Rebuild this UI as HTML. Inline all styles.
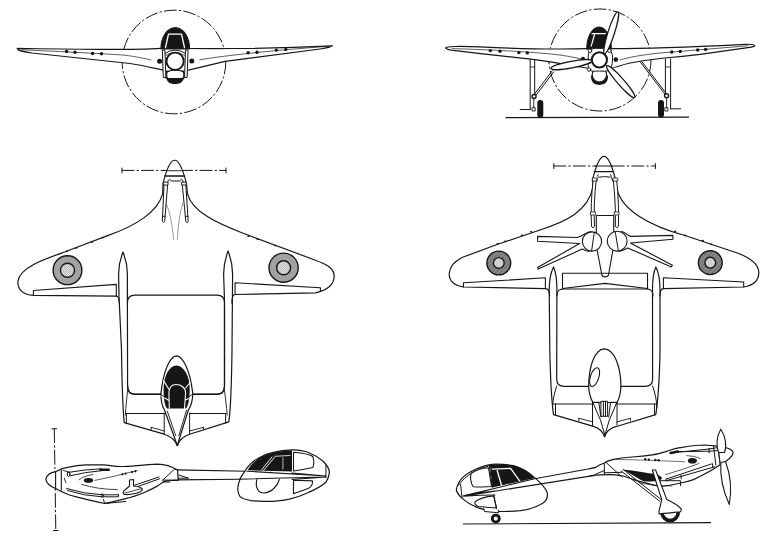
<!DOCTYPE html>
<html><head><meta charset="utf-8">
<style>
html,body{margin:0;padding:0;background:#fff;width:780px;height:538px;overflow:hidden;font-family:"Liberation Sans",sans-serif;}
svg{display:block}
</style></head>
<body>
<svg width="780" height="538" viewBox="0 0 780 538">
<defs>
  <pattern id="dots" width="2" height="2" patternUnits="userSpaceOnUse"><rect width="2" height="2" fill="#e4e4e4"/><rect width="1" height="1" fill="#b8b8b8"/><rect x="1" y="1" width="1" height="1" fill="#b8b8b8"/></pattern>
  <pattern id="hatch" width="3" height="3" patternUnits="userSpaceOnUse" patternTransform="rotate(-45)"><rect width="3" height="3" fill="#8a8a8a"/><rect width="3" height="1" fill="#6a6a6a"/></pattern>
</defs>
<g fill="none" stroke="#161616" stroke-width="1.2" stroke-linejoin="round" stroke-linecap="round">

<!-- ============ VIEW 1: front view (left) ============ -->
<g id="v1">
  <circle cx="174" cy="62" r="51.8" stroke-width="1" stroke-dasharray="12 3 1.5 3"/>
  <!-- wings -->
  <path d="M164,48.2 C140,50.6 90,49.5 17.2,48.4 C17.5,50.5 21,51.5 32,53 L130,63.5 C146,66 155,68.5 163.5,70.2" fill="#fff"/>
  <path d="M188,48.5 Q260,49.2 332.5,45.8 C331,47.2 328,47.8 320,49 L225,61.4 C206,66 197,68.2 188.5,70.2" fill="#fff"/>
  <path d="M22,49.8 C60,51.5 110,54 125,55.2 C135,56.5 145,58.5 151,60" stroke-width="0.7"/>
  <path d="M199.9,59.7 Q245,52.5 328,46.3" stroke-width="0.7"/>
  <g fill="#161616" stroke="none">
    <circle cx="66.6" cy="51.5" r="1.7"/><circle cx="75" cy="52.2" r="1.7"/>
    <circle cx="92.6" cy="53.5" r="1.7"/><circle cx="101.5" cy="53.8" r="1.7"/>
    <circle cx="248.1" cy="52.8" r="1.7"/><circle cx="257" cy="52.3" r="1.7"/>
    <circle cx="276.3" cy="50.1" r="1.7"/><circle cx="285.8" cy="49.4" r="1.7"/>
    <circle cx="159.6" cy="61.3" r="2.5"/><circle cx="191.8" cy="60.9" r="2.5"/>
  </g>
  <!-- canopy -->
  <path d="M161,49 A14.25,21.3 0 0 1 189.5,49 Z" fill="#161616"/>
  <path d="M165.5,47.5 L168.5,34.2 L181.5,34.2 L184.5,47.5" stroke="#fff" stroke-width="1.3"/>
  <!-- engine frame -->
  <path d="M166.7,71 Q165,78.5 167.2,79 C169,85 181,85 183,79 Q185,78.5 183.6,71 Z" fill="#161616"/>
  <path d="M167,72 Q175,68 183.5,72 Q184.5,78 182,78.5 L168.5,78.5 Q166,78 167,72Z" fill="#fff" stroke-width="1"/>
  <rect x="162.8" y="50" width="2.6" height="27.6" rx="1" fill="#fff" stroke-width="1" transform="rotate(-2 164 64)"/>
  <rect x="185" y="50" width="2.6" height="27.6" rx="1" fill="#fff" stroke-width="1" transform="rotate(2 186.3 64)"/>
  <path d="M165,53.5 Q175,46.5 185.5,53.5" stroke-width="1"/>
  <path d="M166,55.5 Q175,49 184.5,55.5" stroke-width="0.8"/>
  <circle cx="175.1" cy="61.3" r="8.6" fill="#fff" stroke-width="1.8"/>
</g>

<!-- ============ VIEW 2: front view (right, with prop) ============ -->
<g id="v2">
  <circle cx="600" cy="60" r="51" stroke-width="1" stroke-dasharray="12 3 1.5 3"/>
  <line x1="506" y1="117.6" x2="688.5" y2="117.2" stroke-width="1.2"/>
  <!-- gear left -->
  <path d="M530.2,58 L530.2,109.5 M534.7,59 L534.7,95" stroke-width="1"/>
  <path d="M530.2,67 L534.7,67" stroke-width="0.8"/>
  <path d="M552.2,70.8 L533.8,95 M553.6,72 L535.4,96" stroke-width="1"/>
  <circle cx="534" cy="96.5" r="2" fill="#fff" stroke-width="1.4"/>
  <path d="M520.2,109.5 L530.2,109.5" stroke-width="1"/>
  <rect x="537.3" y="99.9" width="6" height="17.8" rx="3" fill="#161616" stroke="none"/>
  <path d="M533.8,98 L533.8,107.5 M532.5,107.7 L535.2,107.7 L535.2,111 L532.5,111 Z" stroke-width="0.9"/>
  <!-- gear right -->
  <path d="M665.4,59 L665.4,94 M670.6,59 L670.6,108.8" stroke-width="1"/>
  <path d="M665.4,67 L670.6,67" stroke-width="0.8"/>
  <path d="M640.3,62 L665,94.2 M641.8,61.6 L666.8,94.2" stroke-width="1"/>
  <circle cx="666.6" cy="95.8" r="2" fill="#fff" stroke-width="1.4"/>
  <path d="M670.6,108.8 L680.7,108.8" stroke-width="1"/>
  <rect x="658" y="99.9" width="6" height="17.6" rx="3" fill="#161616" stroke="none"/>
  <path d="M666.6,98 L666.6,107.5 M665.2,107.7 L667.9,107.7 L667.9,111 L665.2,111 Z" stroke-width="0.9"/>
  <!-- wings -->
  <path d="M588,48.6 C565,49.3 520,48.8 480,46.9 C470,46.5 460,46.4 455.4,46.5 C449,46.6 445.2,47.2 445.8,48.2 C447,49.6 450,50.2 455.4,50.7 L478.5,53.4 L530.8,59.2 C545,61 560,63.5 575.4,66.2 C583,67.5 588,68 591,69" fill="#fff"/>
  <path d="M612,48.6 C660,48.5 700,46.5 746,44.3 C752,44.1 755.5,45 754.6,46.2 C752.5,47 749,47.5 746.2,47.8 L700,54.3 C685,56 675,57 664.6,58 C650,59.5 640,61.2 630,63 C620,65.5 615,67 610,69" fill="#fff"/>
  <path d="M452,48.6 C500,50 540,52.5 560,55 C570,56.5 580,58.5 590,61" stroke-width="0.7"/>
  <path d="M620,60 C630,57 640,55.2 660,53 L748,45.8" stroke-width="0.7"/>
  <g fill="#161616" stroke="none">
    <circle cx="490.3" cy="50.6" r="1.7"/><circle cx="500" cy="51.2" r="1.7"/>
    <circle cx="518.9" cy="52.6" r="1.7"/><circle cx="527.3" cy="52.9" r="1.7"/>
    <circle cx="671.8" cy="52" r="1.7"/><circle cx="680.2" cy="51.5" r="1.7"/>
    <circle cx="697.7" cy="50" r="1.7"/><circle cx="705.6" cy="49.4" r="1.7"/>
    
  </g>
  <!-- canopy -->
  <path d="M586.8,49 A12.25,22 0 0 1 611.3,49 Z" fill="#161616"/>
  <path d="M592,33.6 L605.4,33.6 M594.5,34.5 L591.2,46.2" stroke="#fff" stroke-width="1.2"/>
  <!-- lower cowl -->
  <path d="M591.5,76 Q591.5,84.3 599.4,84.3 Q607.5,84.3 607.5,76 Z" fill="#161616"/>
  <circle cx="599.4" cy="74.8" r="7.2" fill="#fff" stroke-width="1.1"/>
  <!-- engine hub -->
  <path d="M590,50.5 C592,47.5 596,48.5 599.5,48.5 C603,48.5 607,47.5 609.5,50.5 C612.5,52 612.8,56 612.5,60 C612.5,65 611,68 609,70 C606,72 603,71 599.5,71 C596,71 592,72 589.5,70 C587.5,67 588.3,64 588.3,60 C588.3,56 588,52 590,50.5 Z" fill="#fff" stroke-width="1"/>
  <g stroke-width="0.9" fill="#fff">
    <circle cx="590" cy="50.8" r="1.8"/><circle cx="609.5" cy="50.8" r="1.8"/>
    <circle cx="589" cy="69.5" r="1.8"/><circle cx="610" cy="69.5" r="1.8"/>
  </g>
  <circle cx="599.4" cy="59.8" r="7.6" fill="#fff" stroke-width="2"/>
  <g fill="#161616" stroke="none"><circle cx="583" cy="58.9" r="2.1"/><circle cx="615.8" cy="59.6" r="2.3"/></g>
  <!-- prop blades -->
  <ellipse cx="0" cy="0" rx="22" ry="3.3" fill="#fff" transform="translate(611.2,32.8) rotate(-72.4)"/>
  <ellipse cx="0" cy="0" rx="21" ry="3.3" fill="#fff" transform="translate(571.5,64.6) rotate(169.4)"/>
  <ellipse cx="0" cy="0" rx="21" ry="3.3" fill="#fff" transform="translate(620.7,81.6) rotate(48.7)"/>
</g>

<!-- ============ VIEW 3: planform (top view, left) ============ -->
<g id="v3">
  <path d="M122,170.4 L226,170.4" stroke-width="1" stroke-dasharray="12 3 1.5 3"/>
  <path d="M122,168 L122,173 M226,168 L226,173" stroke-width="1"/>
  <!-- wing + nose outline -->
  <path d="M116.3,296.2 L33.4,295.3 C24,294.8 17,290 18,281 C20,267 45,259 65.2,251.8 L108.9,235.1 C135,226 158,212 162.6,193.9 L163,183.4 Q174.7,137.1 186.4,183.4 L187.5,193.9 C192,212 218,223.5 241.2,232.5 L315.4,260.2 C326,264 334,268 334.2,276 C334,286 326,290.5 315.4,292.8 L235.1,294.5" fill="#fff"/>
  <path d="M33.4,295.3 L33.4,290.5 L116.3,284.4 L116.3,296.2" stroke-width="1.1"/>
  <path d="M235.1,294.5 L235.1,282.8 L320.4,287.8 L320.4,291.5" stroke-width="1.1"/>
  <!-- nose bands -->
  <path d="M166,170.7 L183.3,170.7" stroke-width="0.9"/><path d="M165,175.9 L184.4,175.9" stroke-width="1.5"/>
  <path d="M167.3,183.3 Q167.5,179.5 170.2,179.2 M170.6,181 L180.3,181 M181,179.2 Q183.5,179.5 183.6,183.3" stroke-width="1"/>
  <!-- engine rods -->
  <path d="M164.1,183.6 L162.3,221.5 Q163.5,223.8 164.7,221.5 L167.7,183.6 M182.2,183.6 L185.8,221.5 Q187,223.8 188.2,221.5 L185.8,183.6" stroke-width="1" fill="#fff"/>
  <path d="M163.8,182.2 L168,182.2 L168,185 L163.8,185 Z M182,182.2 L186.2,182.2 L186.2,185 L182,185 Z" stroke-width="0.9" fill="#fff"/>
  <path d="M162.4,216.3 L165.3,216.3 M185.3,216.3 L188.2,216.3" stroke-width="0.9"/>
  <path d="M166.5,204 Q171.5,216 173.7,239.5 M182.8,203 Q178.5,216 177.4,239.5" stroke-width="0.6" stroke="#555"/>
  <!-- tail booms -->
  <path d="M121.5,350 C122,390 123,410 124.2,422.7 L164.2,434.2 C171,436.5 175.5,440 177.3,445.8 C179,440 183,436.5 189.6,434.2 L228.8,421.9 C230.5,410 231.5,390 232,350 L232.6,274 C232.6,264 230,256 228.1,251 C226.2,256 223.6,264 223.6,274 L224.5,300 L224.5,386 Q224.5,394.3 217,394.3 L135,394.3 Q127.6,394.3 127.6,386 L127.4,300 L127.4,274 C127.4,264 125,257 123,252 C121,257 118.6,264 118.6,274 L119,296 Z" fill="#fff"/>
  <path d="M116.3,296 Q119,296 119.5,304 M235.1,294.5 Q232,294.5 231.8,303" stroke-width="1.1"/>
  <!-- inner frame -->
  <path d="M127.4,303 Q127.4,295.2 135,295.2 L217,295.2 Q224.5,295.2 224.5,303 L224.5,386 Q224.5,394.2 217,394.2 L135,394.2 Q127.6,394.2 127.6,386" stroke-width="1.2"/>
  <!-- tailplane parts -->
  <path d="M126.4,413.5 L126.4,423.3 M225.6,413.5 L225.6,423 M126,413.5 L164.2,413.5 M189.6,413.5 L226,413.5" stroke-width="1"/>
  <path d="M127.6,390 C126.8,398 126,406 125.3,415 M224.5,390 C225.3,398 226.5,406 227.3,415" stroke-width="0.9"/>
  <path d="M164.2,413 L164.2,434.2 M189.6,413 L189.6,434.2" stroke-width="1"/>
  <path d="M151.2,427.3 L164.2,431 M151.2,427.3 L151.2,429.8" stroke-width="0.9"/>
  <path d="M189.6,431 L203.5,427.3 M203.5,427.3 L203.5,429.8" stroke-width="0.9"/>
  <!-- canopy pod -->
  <path d="M176.5,355.9 C170,356.5 163.5,370 161,392.9 C160.8,400 162,406 164.5,410 L177.3,445.5 L188.3,410 C191,406 192.8,400 192.7,392.9 C190,370 183,356.5 176.5,355.9 Z" fill="#fff" stroke-width="1.2"/>
  <path d="M176.4,365.6 C169,366 163.6,376 163.6,389 C163.6,400 165,406 167,408.5 L186,408.5 C188,406 189.7,400 189.7,389 C189.7,376 184,366 176.4,365.6 Z" fill="#161616" stroke="none"/>
  <path d="M169.3,408 L168.9,392 C169.5,387 172.5,384.5 176,384.5 C181,384.5 185.6,387.7 185.6,393 L184.5,408.5 M163.5,380.6 L169,389.5 M190.1,382.5 L185.6,388 M161.5,395.8 L169.2,400.7 M190.3,398.1 L185.4,400" stroke="#fff" stroke-width="1.1"/>
  <path d="M167.3,411.2 L175.8,435.8 M186.5,410.4 L178.8,435.8" stroke-width="0.9"/>
  <path d="M160.5,394.2 L165,397.5 M192.3,394.2 L188,397.5" stroke-width="0.9"/>
  <!-- roundels -->
  <circle cx="67.5" cy="270.2" r="14.4" fill="#a2a2a2" stroke-width="1.4"/>
  <circle cx="67.5" cy="270.2" r="7" fill="url(#dots)" stroke-width="1.4"/>
  <circle cx="283.6" cy="267.7" r="14.6" fill="#a2a2a2" stroke-width="1.4"/>
  <circle cx="283.6" cy="267.7" r="7" fill="url(#dots)" stroke-width="1.4"/>
</g>

<!-- ============ VIEW 4: bottom view (right) ============ -->
<g id="v4">
  <path d="M553.8,166 L655.4,166" stroke-width="1" stroke-dasharray="12 3 1.5 3"/>
  <path d="M553.8,163.6 L553.8,168.6 M655.4,163.6 L655.4,168.6" stroke-width="1"/>
  <!-- wing outline -->
  <path d="M545.4,288.6 L463.4,287 C455,285.5 449,281 449.2,273.6 C450,266 454,262 462,257.5 L497.7,244.3 L540,230 C565,222 588,212 593.2,186.7 L592.6,179.7 Q604,132.9 615.5,179.7 L616.8,188.1 C621,210 650,226 685,235.5 L738.7,253.5 C750,258 758.8,264 758.8,272.7 C758.8,281 752,285.5 743.7,287 L663.4,288.6" fill="#fff"/>
  <path d="M463.4,287 L463.4,282.8 L545.4,277.8 L545.4,288.6" stroke-width="1.1"/>
  <path d="M663.4,288.6 L663.4,277.8 L743.7,282 L743.7,287" stroke-width="1.1"/>
  <path d="M595.4,166 L612.5,166 M594.3,171.6 L613.6,171.6" stroke-width="1.1"/>
  <!-- rods -->
  <path d="M593.2,179.2 Q590.3,205 591.5,226.5 Q593,228.8 594.5,226.5 Q593.3,205 596.3,179.2 M613.2,179.2 Q616,205 615.3,226.5 Q616.8,228.8 618.3,226.5 Q619.3,205 616.6,179.2" stroke-width="1" fill="#fff"/>
  <path d="M596.8,181 Q597,177.6 598.8,177.1 Q604.5,176.2 610.3,177.1 Q612.5,177.6 612.7,181 M598.2,174.6 L597.3,176.3 M610.6,174.6 L611.5,176.3" stroke-width="1"/>
  <path d="M592.6,178 L596.8,178 L596.8,181 L592.6,181Z M613.2,178 L617.8,178 L617.8,181 L613.2,181Z M590.8,212 L595.6,212 L595.6,215 L590.8,215Z M614.6,212 L619,212 L619,215 L614.6,215Z" stroke-width="0.8" fill="#fff"/>
  <!-- central body -->
  <path d="M596.3,215.5 L613.7,215.5 M596.3,215.5 L596.3,235 M613.7,215.5 L613.7,235" stroke-width="1.1"/>
  <path d="M597,249.5 L601.9,275 C602.5,277.5 607.5,277.5 608.5,275 L612.8,250.6" fill="#fff" stroke-width="1.1"/>
  <!-- spokes + spinners -->
  <path d="M591,231.5 C586,232 584,236 576.9,237.5 L537.6,236.4 L537.6,241.3 L579.6,243.5 L537.6,267.5 L538.2,269.1 L582.3,249 C585,250.5 587,251.5 589.5,251.2" fill="#fff" stroke-width="1.1"/>
  <path d="M621.2,231.5 C626,232 627,236 631,236.4 L672.9,235.4 L672.9,239.2 L630.4,243 L672.4,265.3 L671.3,267 L627.7,247.9 C624,249.5 622,251 619.5,251.2" fill="#fff" stroke-width="1.1"/>
  <circle cx="592" cy="241.5" r="9.6" fill="#fff" stroke-width="1.1"/>
  <circle cx="617.2" cy="241.2" r="9.9" fill="#fff" stroke-width="1.1"/>
  <path d="M594.3,232.2 L591.6,251 M615.2,231.4 L618.4,251" stroke-width="1"/>
  <!-- booms -->
  <path d="M549.8,350 C550.5,385 551.5,400 553.5,414.6 L592.7,426.2 C599,428 603,432 604.6,437 C606,432 610,428 617.3,426.2 L655.8,414.6 C658,400 659.5,385 660,350 L660,290 C660,279 658,271 655.9,266.9 C653.8,271 652.5,279 652.5,290 L652.6,379 Q652.6,386.4 645,386.4 L564,386.4 Q556.7,386.4 556.7,379 L556.9,290 C556.9,279 555.5,271 553.5,266.9 C551.5,271 549.2,279 549.2,290 Z" fill="#fff"/>
  <path d="M545.4,288.6 Q549.5,288.6 549.7,296 M663.4,288.6 Q660,288.6 660,296" stroke-width="1.1"/>
  <!-- tailplane box -->
  <path d="M556.9,296 Q556.9,289 563,289 L647,289 Q653,289 653,296" stroke-width="1.1"/>
  <path d="M562.5,289 L562.5,273.3 L647.5,273.3 L647.5,289 M562.5,288.5 L605,283.4 L647.5,288.5" stroke-width="1.1"/>
    <!-- inner frame bottom -->
  <path d="M652.6,386 C655,393 656.5,399 656.9,407.5 M556.7,386 C554.5,393 552.8,399 552.4,407.5" stroke-width="1"/>
  <path d="M553,404 L592.6,404 M616,404 L656.5,404 M555.5,404 L555.5,415.3 M654.5,404 L654.5,414.5" stroke-width="1"/>
  <!-- fuselage pod -->
  <path d="M604.3,348.8 C595,349 589,366 588.7,384.9 C588.6,392 590.5,398 592.9,402.5 L617,402.5 C619.5,398 620.9,392 620.9,384.9 C620.5,366 614,349 604.3,348.8 Z" fill="#fff" stroke-width="1.2"/>
  <ellipse cx="594.6" cy="377.1" rx="4.2" ry="9.8" transform="rotate(18 594.6 377.1)" fill="#fff" stroke-width="1.1"/>
  
  <path d="M592.5,402.3 L592.5,426 M617,402.3 L617,424.8 M592.5,402.3 L599,402.3 M610.5,402.3 L617,402.3 M592.9,402.5 L600.5,420.1 L604.8,435 M598.8,402.5 L600.9,417 M616.8,402.5 L609.3,420.1 L604.9,435 M610.6,402.5 L608.7,417" stroke-width="1"/>
  <path d="M601.3,401.3 L607.6,401.3 L607.6,416.3 L601.3,416.3 Z" fill="#fff" stroke-width="1"/><path d="M603.4,401.5 L603.4,416 M605.5,401.5 L605.5,416" stroke-width="1"/>
  <path d="M578.8,418.3 L592.7,421.8 M578.8,418.3 L578.8,420.7 M630.4,418.3 L617.3,421.8 M630.4,418.3 L630.4,420.7" stroke-width="0.9"/>
  <!-- roundels -->
  <circle cx="498.8" cy="263" r="11.9" fill="url(#hatch)" stroke-width="1.4"/>
  <circle cx="498.8" cy="263" r="5.4" fill="#d0d0d0" stroke-width="1.4"/>
  <circle cx="710.3" cy="262.7" r="11.9" fill="url(#hatch)" stroke-width="1.4"/>
  <circle cx="710.3" cy="262.7" r="5.4" fill="#d0d0d0" stroke-width="1.4"/>
</g>

<!-- ============ VIEW 5: side view (left) ============ -->
<g id="v5">
  <path d="M54.3,428.8 L55.8,530.5" stroke-width="1" stroke-dasharray="14 3 1.5 3"/>
  <path d="M52,428.8 L56.6,428.8 M53.5,530.5 L58.1,530.5" stroke-width="1"/>
  <!-- boom -->
  <path d="M176,469.9 L247,471.2 L325.8,476 L325.8,477 L240,479.2 L176,479.9" fill="#fff" stroke-width="1.1"/>
  <!-- engine pod -->
  <path d="M45.8,479.2 C47,474 51,472.5 55.6,471.7 C60,469 64,467.5 68.8,467.1 C75,465.5 80,465 86.2,464.8 L103.5,464.8 C110,465.3 114,466.5 120.8,466.5 C130,466.5 140,465 157.7,464.1 C165,464.3 170,465.5 177.6,469.9 L178.2,480.1 C173,480.5 169,480.5 166.7,480.8 C163,481.5 160,484 157.7,485.9 C152,489 149,490.5 144.9,492.3 C136,496 131,497.5 125.6,498.7 C116,500.8 110,502.5 104.6,503.5 C95,501.5 92,500.5 86.2,499.4 C80,497.5 74,496.5 68.8,494.8 C63,492.5 59,490.5 55.6,488.5 C50,486.5 46.5,484 45.8,479.2 Z" fill="#fff" stroke-width="1.2"/>
  <path d="M55.6,471.3 L55.6,489 M61.3,470.4 L61.3,490" stroke-width="1.1"/>
  <path d="M162.8,480.1 L174.4,469.2 L177.6,469.9 M162.8,480.1 L178.2,480.1 M162.8,482 L170,482 M178.8,475 L188.5,478.2 L178.2,478.2" stroke-width="1"/>
  <!-- tubes -->
  <path d="M68.8,472.3 Q85,469.5 101.2,468.8 M70,475.8 Q85,472 102.3,470.6" stroke-width="1"/>
  <path d="M63.1,470.3 L68.8,472.3 M64.2,478 L66,482.7" stroke-width="0.9"/>
  <ellipse cx="68.6" cy="474" rx="1.3" ry="2.6" stroke-width="1"/>
  <path d="M100.5,469.7 L108.7,469.7" stroke-width="2.6"/>
  <path d="M66.5,488.5 Q84,494 102.3,494.8 L118.5,494.8 M67.5,490.5 Q84,496 102.3,496.8 L118.5,496.8 L118.5,494.8" stroke-width="1"/>
  <ellipse cx="102.3" cy="495.6" rx="1" ry="2" stroke-width="0.9"/>
  <path d="M103.5,499.5 L104.6,503.5 L125.6,501.5" stroke-width="1"/>
  <ellipse cx="88.5" cy="480.4" rx="4.6" ry="2.4" fill="#161616" stroke="none"/>
  <path d="M79.2,479.8 Q84,475.5 93,474.6 M81.5,484.4 Q98,489.5 117.3,489.6" stroke-width="0.8"/>
  <path d="M94.8,480.4 Q115,476.5 137.2,470.5" stroke-width="0.7"/>
  <g fill="#161616" stroke="none"><circle cx="122.4" cy="474.4" r="1.1"/><circle cx="125.6" cy="473.6" r="1.1"/><circle cx="132" cy="472.1" r="1.1"/><circle cx="135.3" cy="471.3" r="1.1"/></g>
    <!-- strut paddle -->
  <path d="M159,477 L134.6,485.2 M159.5,478.8 L135,487.5" stroke-width="1"/>
  <path d="M129.5,480 L133.5,479.5 L133.5,486 C138,486.5 142.5,487.5 142.3,489.7 C141,493 130,495 125,494.5 C122,493.8 123,491 125.5,489.5 L129.5,486 Z" fill="#fff" stroke-width="1.1"/>
  <path d="M125,493 L142,488.5" stroke-width="0.8"/>
  <!-- cockpit pod -->
  <path d="M237.8,488 C238.5,482 240.5,477 244.1,472.4 C248,466 253,461 258.2,458.3 C263,455.5 268,453.5 272.3,452.7 C280,450.5 286,449.9 292,449.9 C300,450 305,451 309,452.7 C315,455 319,457.5 323.1,461.2 C327,465 329.4,469 329.4,472.4 C329,477 327.5,480 325.9,482.3 C321,487 315,489.5 309,492.2 C302,495.5 295,497.8 289.2,499.2 C283,500.5 277,501.3 272.3,501.3 C264,501.3 257,501 251.2,500.6 C246,499.8 242,498.5 239.9,496.4 C238.3,494 237.6,491 237.8,488 Z" fill="#fff" stroke-width="1.2"/>
  <path d="M247.6,470.3 C251,464 256,460 262,456.6 C270,452.5 280,450.4 292,450.4 L292,471.4 Z" fill="#161616" stroke="none"/>
  <path d="M261.5,470 L272,457 M263.5,470.5 L274.5,457.5" stroke="#fff" stroke-width="0.9"/>
  <path d="M282.9,458 L282.9,470" stroke="#fff" stroke-width="0.8" stroke-dasharray="1 1"/>
  <path d="M275,456.3 L290,455.5" stroke="#fff" stroke-width="0.8"/>
  <path d="M293.5,452.2 C302,453 310,453.8 312.8,456.5 C314,460 313.8,465 312.8,467.5 C306,469 299,470.5 293.5,471 Z" fill="#fff" stroke-width="1.1"/>
  <path d="M293.5,480.2 L312.5,480.9 C313,484 311,487 309,488 C303,490.5 298,492.5 293.5,493.6 Z" fill="#fff" stroke-width="1.1"/>
  <path d="M325.9,464.7 L325.9,477.4" stroke-width="1"/>
  <path d="M256.8,479.5 C255,488 258.5,493 264,493 C271.5,492.5 277.5,486 279.4,479.5" stroke-width="1.1"/>
  <path d="M247,471.2 L325.9,476 M239,479.2 L325.9,477 M292,473 L325.9,476 M292,479.5 L325.9,477" stroke-width="1.1"/>
  <path d="M238,470.9 L238,478.6" stroke="none"/>
</g>

<!-- ============ VIEW 6: side view (right) ============ -->
<g id="v6">
  <line x1="463.4" y1="524" x2="710.5" y2="522.6" stroke-width="1.2"/>
  <!-- boom -->
  <path d="M463.4,495.9 L534.6,478.8 L603.2,466.2 L604.6,475.4 L594.7,475.4 L463.4,496.4 Z" fill="#fff" stroke="none"/>
  <!-- cockpit pod -->
  <path d="M456.3,489.6 C458,480 465,474 475,469.5 C483,466 490,464.2 496.5,464.2 C503,464.2 508,464.5 513.5,465.6 C522,468 529,472.5 534.6,477.6 C541,483 546,488 547.3,493.1 C548,498 546,501 543.1,503 C536,507.5 528,509.8 520.5,510.7 C512,511.5 504,511.6 496.5,511.4 C489,510.5 483,509.5 478.2,507.9 C471,505 466,502 462.7,498.7 C459,495.5 456.5,492.5 456.3,489.6 Z" fill="#fff" stroke-width="1.2"/>
  <path d="M488.1,465 C498,463.8 506,464.2 513.5,465.6 C522,468 529,472.5 534.6,478.3 L492.3,487.4 L490.2,467.2 Z" fill="#161616" stroke="none"/>
  <path d="M492.3,469.1 L510.6,468.4 M497.2,470.5 L501.5,485.3 M510.6,468.4 L519.8,481.1" stroke="#fff" stroke-width="1.3"/>
  <path d="M458.5,485.3 C466,475 477,468.5 488.1,466.3 M489.5,466.3 L492.3,487.4" stroke-width="1"/>
  <path d="M471.2,473.3 C477,469.5 482,468 488.5,467.7 L491.5,486.5 C485,487.2 478,487 473.3,486.7 C470.5,483 470,477 471.2,473.3 Z" fill="#fff" stroke-width="1.1"/>
  <path d="M475.4,501.5 C480,498 487,496.5 493.7,495.9 L496.5,507.9 C490,507.5 484,507.2 478.2,506.5 C475,505 474,503 475.4,501.5 Z" fill="#fff" stroke-width="1.1"/>
  <path d="M493.7,495.2 L496.5,508.6 M460.6,484.6 L462,497.3" stroke-width="1"/>
  <path d="M463.4,495.9 L534.6,478.8 L603.2,466.2 M463.4,496.2 L594.7,475.4 M463.4,495.9 Q480,492 495,491 M463.4,496.2 Q480,495 495,495" stroke-width="1.1"/>
  <!-- nose gear -->
  <path d="M483.8,508.6 L484.5,511.5 L498.7,512.8 L498.2,510" stroke-width="1" fill="#fff"/>
  <circle cx="495.8" cy="518.6" r="3.5" fill="#fff" stroke-width="2.9"/>
  <!-- engine pod -->
  <path d="M590,468.6 L595,467.7 C598,465.5 601,464 604.3,463 C607,461 610,460 613.6,459.3 C620,458 626,457.5 632.2,457 C640,456.3 645,455.8 650.8,455.1 C656,454.5 660,453.5 665,451.9 C670,450 676,448 682.3,447.3 C690,446 697,445 704.6,445 L718,446.2 L720.3,464.6 C714,469 709,472 704.6,474 C700,476.5 697,478 693.5,479.6 C688,481.5 684,482.5 680.6,483 C674,484.5 668,485.8 660,486.3 C656,486 653,485 650.8,484.4 C646,483 641,481.8 636.8,480.7 C632,479 627,477 622.9,476 C617,475 612,474.5 609,474.6 C604,474.7 599,475 595,475.1 L590,475.9" fill="#fff" stroke-width="1.2"/>
  <path d="M604.3,463.5 L604.3,473.7 M606.2,462.6 L622,477 M595,474.6 L604.3,470.5 M604.3,472.8 L622,472.3" stroke-width="1"/>
  <path d="M613.6,459.5 Q640,459.6 684.5,461.8" stroke-width="0.6"/>
  <g fill="#161616" stroke="none"><circle cx="645.2" cy="459.3" r="1.2"/><circle cx="648.9" cy="459.6" r="1.2"/><circle cx="655.4" cy="460" r="1.2"/><circle cx="658.7" cy="460.2" r="1.2"/></g>
  <ellipse cx="692.4" cy="460.7" rx="4.5" ry="2.8" fill="#161616" stroke="none"/>
  <path d="M686.8,455.6 Q695,455.8 700.2,458.4 M665.6,474.6 Q685,469 699,463.5" stroke-width="0.7"/>
  <path d="M671.2,452.9 L709.1,449 M676.7,451.7 L709.1,451.2 M709.1,448.4 L709.1,452.9 M709.1,449 L718,447.5 M709.1,451.2 L718,450.5" stroke-width="1"/>
  <path d="M670.5,453 L678,451.5" stroke-width="2.4"/>
  <path d="M666.1,479.1 L711.3,464 M666.1,480.7 L714.7,466.8 M666.1,479.1 L666.1,480.7 M681.2,475.3 L681.2,478.8 M712.4,463.6 L712.8,467.4 M713.6,446.2 L715.8,465" stroke-width="1"/>
  <path d="M660,480.7 L680.6,480.7 L680.6,485.8" stroke-width="1"/>
  <path d="M639.6,483 Q655,486.5 672,486" stroke-width="0.7"/>
  <!-- brace + exhaust -->
  <path d="M622.9,469.5 C632,470.5 642,472 648.9,473.2 C656,473.5 662,476 662,478.5 C660,481.5 650,482 644,481.2 C640,480 638,478 636,477 Z" fill="#161616" stroke="none"/>
  <path d="M622.9,469.3 L661.8,500 M621.2,471 L659.8,501.3" stroke-width="1" fill="none"/>
  <!-- main gear -->
  <circle cx="670.1" cy="512.4" r="8.1" fill="#fff" stroke-width="3.6"/>
  <path d="M652.3,470 L655.6,470 L666.8,499.6 C672,502 678,505.5 681.3,509 L680.7,511.8 C674,512.5 666,513.2 659,514 C659,510 659.5,508 660.1,506.8 L661.7,499.6 Z" fill="#fff" stroke-width="1.1"/>
  <!-- spinner + prop -->
  <path d="M718,446.2 C726,446.5 733.1,449.5 733.1,452.9 C732.5,457.5 727,461 720.3,464.6 Z" fill="#fff" stroke-width="1.1"/>
  <path d="M720.8,429.2 C716.5,436 716,446 718.5,452.5 L724.5,452.5 C727,446 725.5,436 720.8,429.2 Z" fill="#fff" stroke-width="1.1"/>
  <path d="M720.8,462.5 C720,476 723.5,492 729.3,504.5 C731.5,492 731,476 725.5,461.5 Z" fill="#fff" stroke-width="1.1"/>
</g>

  <g fill="#161616" stroke="none">
    <ellipse cx="66.9" cy="251.2" rx="1.3" ry="0.8"/><ellipse cx="76.1" cy="247.9" rx="1.3" ry="0.8"/><ellipse cx="92" cy="241.9" rx="1.3" ry="0.8"/><ellipse cx="102.9" cy="237.6" rx="1.3" ry="0.8"/>
    <ellipse cx="248.5" cy="236.2" rx="1.3" ry="0.8"/><ellipse cx="257.7" cy="239.3" rx="1.3" ry="0.8"/><ellipse cx="275.3" cy="245.6" rx="1.3" ry="0.8"/>
    <ellipse cx="497.7" cy="243.8" rx="1.3" ry="0.8"/><ellipse cx="505.3" cy="241.2" rx="1.3" ry="0.8"/><ellipse cx="522" cy="235.2" rx="1.3" ry="0.8"/><ellipse cx="531.2" cy="231.8" rx="1.3" ry="0.8"/>
    <ellipse cx="675.1" cy="231.3" rx="1.3" ry="0.8"/><ellipse cx="685.2" cy="235.4" rx="1.3" ry="0.8"/><ellipse cx="702.7" cy="240.6" rx="1.3" ry="0.8"/><ellipse cx="711.1" cy="244.2" rx="1.3" ry="0.8"/>
  </g>

</g>
</svg>
</body></html>
